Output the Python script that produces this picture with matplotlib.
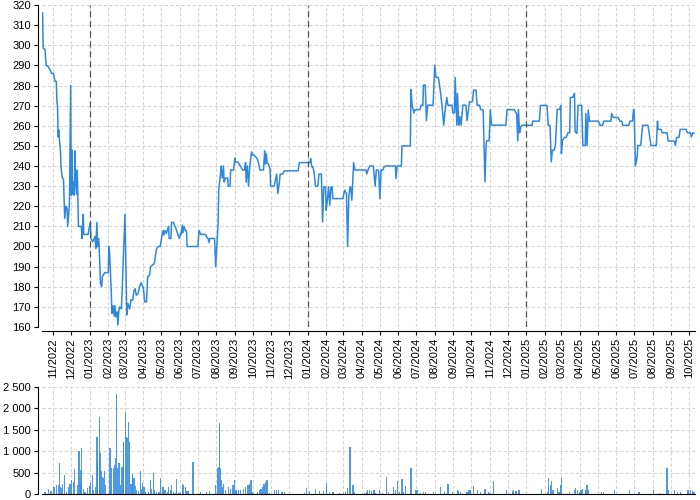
import matplotlib
matplotlib.use('Agg')
import matplotlib.pyplot as plt
import matplotlib.dates as mdates
import matplotlib.ticker as mticker
import pandas as pd

# price line (date, close)
price_dates = [
    '2022-10-14', '2022-10-15', '2022-10-18', '2022-10-20', '2022-10-23', '2022-10-26', '2022-10-29',
    '2022-11-01', '2022-11-04', '2022-11-06', '2022-11-07', '2022-11-08', '2022-11-09', '2022-11-10',
    '2022-11-11', '2022-11-13', '2022-11-14', '2022-11-16', '2022-11-18', '2022-11-19', '2022-11-20',
    '2022-11-22', '2022-11-24', '2022-11-25', '2022-11-27', '2022-11-28', '2022-11-30', '2022-12-01',
    '2022-12-02', '2022-12-03', '2022-12-05', '2022-12-06', '2022-12-07', '2022-12-08', '2022-12-10',
    '2022-12-11', '2022-12-12', '2022-12-13', '2022-12-18', '2022-12-19', '2022-12-20', '2022-12-21',
    '2022-12-22', '2022-12-29',
    '2023-01-02', '2023-01-03', '2023-01-06', '2023-01-10', '2023-01-11', '2023-01-13', '2023-01-14',
    '2023-01-16', '2023-01-18', '2023-01-19', '2023-01-21', '2023-01-22', '2023-01-25', '2023-01-26',
    '2023-02-01', '2023-02-02', '2023-02-03', '2023-02-05', '2023-02-06', '2023-02-07', '2023-02-09',
    '2023-02-11', '2023-02-12', '2023-02-14', '2023-02-16', '2023-02-17', '2023-02-19', '2023-02-20',
    '2023-02-23', '2023-02-24', '2023-03-01', '2023-03-04', '2023-03-06', '2023-03-09', '2023-03-11',
    '2023-03-14', '2023-03-16', '2023-03-18', '2023-03-20', '2023-03-23', '2023-03-25', '2023-03-28',
    '2023-03-30', '2023-04-01', '2023-04-03', '2023-04-06', '2023-04-08', '2023-04-11', '2023-04-13',
    '2023-04-16', '2023-04-19', '2023-04-23', '2023-04-26', '2023-04-29', '2023-05-02', '2023-05-04',
    '2023-05-05', '2023-05-07', '2023-05-09', '2023-05-11', '2023-05-13', '2023-05-14', '2023-05-17',
    '2023-05-18', '2023-05-21', '2023-05-23', '2023-05-26', '2023-05-29', '2023-05-31', '2023-06-02',
    '2023-06-03', '2023-06-05', '2023-06-06', '2023-06-08', '2023-06-10', '2023-06-12', '2023-06-13',
    '2023-07-01', '2023-07-03', '2023-07-06', '2023-07-14', '2023-07-16', '2023-07-18', '2023-07-20',
    '2023-07-21', '2023-07-29', '2023-07-31', '2023-08-03', '2023-08-04', '2023-08-05', '2023-08-08',
    '2023-08-09', '2023-08-11', '2023-08-13', '2023-08-14', '2023-08-16', '2023-08-20', '2023-08-21',
    '2023-08-24', '2023-08-25', '2023-08-30', '2023-09-01', '2023-09-02', '2023-09-06', '2023-09-09',
    '2023-09-11', '2023-09-14', '2023-09-17', '2023-09-19', '2023-09-20', '2023-09-22', '2023-09-24',
    '2023-09-26', '2023-09-29', '2023-10-01', '2023-10-03', '2023-10-06', '2023-10-09', '2023-10-11',
    '2023-10-13', '2023-10-19', '2023-10-21', '2023-10-22', '2023-10-24', '2023-10-25', '2023-10-27',
    '2023-10-30', '2023-10-31', '2023-11-06', '2023-11-08', '2023-11-10', '2023-11-12', '2023-11-14',
    '2023-11-16', '2023-11-20', '2023-11-23', '2023-12-16', '2023-12-18',
    '2024-01-05', '2024-01-06', '2024-01-08', '2024-01-10', '2024-01-12', '2024-01-14', '2024-01-18',
    '2024-01-20', '2024-01-24', '2024-01-26', '2024-01-28', '2024-01-31', '2024-02-01', '2024-02-03',
    '2024-02-05', '2024-02-07', '2024-02-09', '2024-02-11', '2024-02-12', '2024-02-29', '2024-03-03',
    '2024-03-06', '2024-03-08', '2024-03-10', '2024-03-12', '2024-03-13', '2024-03-15', '2024-03-18',
    '2024-03-20', '2024-04-08', '2024-04-09', '2024-04-11', '2024-04-14', '2024-04-20', '2024-04-23',
    '2024-04-25', '2024-04-27', '2024-04-29', '2024-05-01', '2024-05-03', '2024-05-06', '2024-05-08',
    '2024-05-11', '2024-05-27', '2024-05-28', '2024-05-30', '2024-06-06', '2024-06-07', '2024-06-21',
    '2024-06-22', '2024-06-24', '2024-06-27', '2024-06-29', '2024-07-07', '2024-07-09', '2024-07-12',
    '2024-07-13', '2024-07-16', '2024-07-18', '2024-07-20', '2024-07-29', '2024-08-01', '2024-08-03',
    '2024-08-07', '2024-08-10', '2024-08-13', '2024-08-16', '2024-08-18', '2024-08-21', '2024-08-23',
    '2024-08-30', '2024-08-31', '2024-09-03', '2024-09-04', '2024-09-07', '2024-09-08', '2024-09-10',
    '2024-09-12', '2024-09-14', '2024-09-17', '2024-09-22', '2024-09-24', '2024-09-28', '2024-10-03',
    '2024-10-05', '2024-10-09', '2024-10-11', '2024-10-15', '2024-10-17', '2024-10-20', '2024-10-21',
    '2024-10-24', '2024-10-26', '2024-10-27', '2024-10-31', '2024-11-02', '2024-11-04', '2024-11-28',
    '2024-11-30', '2024-12-12', '2024-12-15', '2024-12-16', '2024-12-18', '2024-12-19', '2024-12-21',
    '2024-12-23', '2024-12-26',
    '2025-01-11', '2025-01-12', '2025-01-23', '2025-01-25', '2025-02-05', '2025-02-07', '2025-02-10',
    '2025-02-12', '2025-02-14', '2025-02-17', '2025-02-19', '2025-02-22', '2025-02-26', '2025-02-28',
    '2025-03-01', '2025-03-03', '2025-03-06', '2025-03-09', '2025-03-12', '2025-03-15', '2025-03-16',
    '2025-03-20', '2025-03-23', '2025-03-24', '2025-03-27', '2025-03-29', '2025-04-04', '2025-04-06',
    '2025-04-10', '2025-04-11', '2025-04-13', '2025-04-15', '2025-04-17', '2025-05-02', '2025-05-05',
    '2025-05-09', '2025-05-11', '2025-05-23', '2025-05-24', '2025-05-27', '2025-06-04', '2025-06-07',
    '2025-06-10', '2025-06-12', '2025-06-22', '2025-06-24', '2025-06-28', '2025-06-30', '2025-07-01',
    '2025-07-03', '2025-07-06', '2025-07-07', '2025-07-12', '2025-07-15', '2025-07-24', '2025-07-26',
    '2025-07-29', '2025-08-07', '2025-08-09', '2025-08-10', '2025-08-15', '2025-08-17', '2025-08-25',
    '2025-08-27', '2025-09-06', '2025-09-08', '2025-09-10', '2025-09-14', '2025-09-16', '2025-09-26',
    '2025-09-28', '2025-10-03', '2025-10-05', '2025-10-07', '2025-10-09',
]
price_values = [
    316, 298.5, 298, 290, 289.5, 288, 286,
    286, 282, 282, 272, 270, 254.5, 258,
    254, 247, 239, 234, 233.5, 224, 214,
    220, 219, 210, 217, 222, 280, 225.5,
    248, 226, 232, 225.5, 247.5, 234, 226,
    238, 226, 210, 210, 204, 209, 216,
    206, 206,
    212, 204, 202.3, 205, 199, 212, 200,
    204, 190, 181.5, 180, 185, 186.5, 187,
    187, 200, 198, 184, 178, 166.7, 170.6,
    165.3, 170.6, 165, 167.5, 161, 169, 170,
    169, 176, 216, 166, 171.6, 169, 173.6,
    173.3, 178, 179, 175.8, 176.6, 179.6, 182,
    180.7, 179, 172.5, 172.5, 185, 185.7, 190,
    190.7, 191.5, 199, 200, 200, 205.6, 208,
    205.6, 208, 206.5, 208, 210, 204, 204,
    212, 212, 210.6, 208.4, 205.6, 204, 206.5,
    206, 210.6, 206.8, 210, 208, 207.8, 200,
    200, 208, 206, 206, 204.5, 204, 202,
    204, 204, 190, 206.5, 211.5, 228, 236,
    240, 234, 240, 232, 234, 234, 230,
    230, 238, 238, 244, 242, 242, 240.5,
    239.7, 238, 238, 241.7, 232, 240, 230,
    239.6, 247, 245.4, 245.4, 244.5, 243.2, 241.2,
    238, 238, 247.5, 241, 245.9, 241.2, 241.2,
    238.7, 230, 230, 233, 236, 226.3, 230.4,
    236, 236, 237.6, 237.6, 241.7,
    241.7, 243.7, 239.6, 239.6, 236.3, 230, 230,
    236, 236, 212.2, 229.6, 229.6, 218, 223,
    229.6, 220.5, 229.6, 229.6, 223.8, 223.8, 228,
    226.3, 200, 225.5, 229.6, 229.6, 223, 241.7,
    238, 238, 236, 238, 240, 240, 230,
    238, 238, 237.6, 223.8, 238, 238, 239.6,
    240, 240, 233.8, 240, 240, 250, 250,
    278, 270.2, 266.4, 268, 268, 270.2, 270.2,
    280.2, 280.2, 262.5, 270.2, 270.2, 290.1, 284,
    284, 277.7, 270.2, 260.3, 267, 274, 270.2,
    270.2, 266.4, 266.4, 284, 260.3, 276, 260.3,
    264.5, 260.3, 270.2, 270.2, 262.5, 271.9, 271.9,
    277.7, 277.7, 270.2, 270.2, 268, 268, 267.8,
    232.1, 251.2, 252.5, 252.5, 268, 260.3, 260.3,
    268, 268, 266.4, 266, 252.5, 268, 256.5,
    259.5, 260.3,
    260.2, 262.3, 262.3, 270.1, 270.1, 260.2, 260.2,
    242.1, 247.9, 247.9, 250.4, 268.1, 268.1, 270.1,
    246.2, 252.9, 254.2, 254.2, 256.5, 256.5, 274.1,
    274.1, 276.1, 257, 256.2, 270.1, 270.1, 250.2,
    250.2, 266.1, 250.2, 267.8, 262.3, 262.3, 260.2,
    260.2, 262.3, 262.3, 266.1, 264.1, 264.1, 262.3,
    262.3, 260.2, 260.2, 262.3, 262.3, 268.1, 266.1,
    240, 244.6, 250.2, 250.2, 260.2, 260.2, 256.5,
    250.2, 250.2, 262.3, 258.2, 258.2, 256.5, 256.5,
    252.4, 252.4, 250.2, 254.2, 254.2, 258.2, 258.2,
    256.5, 256.5, 254.5, 256.5, 256.2,
]

# traded volume
vol_dates = [
    '2022-10-18', '2022-10-24', '2022-10-27', '2022-10-29', '2022-11-02', '2022-11-06', '2022-11-09',
    '2022-11-11', '2022-11-13', '2022-11-15', '2022-11-17', '2022-11-20', '2022-11-23', '2022-11-27',
    '2022-11-29', '2022-12-02', '2022-12-05', '2022-12-07', '2022-12-11', '2022-12-14', '2022-12-16',
    '2022-12-17', '2022-12-18', '2022-12-22', '2022-12-24', '2022-12-28', '2022-12-31',
    '2023-01-02', '2023-01-05', '2023-01-07', '2023-01-10', '2023-01-13', '2023-01-14', '2023-01-17',
    '2023-01-18', '2023-01-20', '2023-01-22', '2023-01-24', '2023-01-26', '2023-01-28', '2023-02-04',
    '2023-02-05', '2023-02-07', '2023-02-10', '2023-02-12', '2023-02-13', '2023-02-15', '2023-02-17',
    '2023-02-19', '2023-02-22', '2023-02-24', '2023-02-26', '2023-02-27', '2023-03-02', '2023-03-03',
    '2023-03-05', '2023-03-07', '2023-03-09', '2023-03-11', '2023-03-13', '2023-03-14', '2023-03-16',
    '2023-03-19', '2023-03-20', '2023-03-23', '2023-03-27', '2023-03-29', '2023-03-30', '2023-04-02',
    '2023-04-05', '2023-04-09', '2023-04-13', '2023-04-15', '2023-04-18', '2023-04-20', '2023-04-23',
    '2023-04-27', '2023-04-30', '2023-05-03', '2023-05-05', '2023-05-07', '2023-05-11', '2023-05-13',
    '2023-05-16', '2023-05-18', '2023-05-21', '2023-05-24', '2023-05-26', '2023-05-30', '2023-06-01',
    '2023-06-05', '2023-06-07', '2023-06-10', '2023-06-13', '2023-06-15', '2023-06-23', '2023-07-05',
    '2023-07-15', '2023-07-20', '2023-07-30', '2023-08-03', '2023-08-05', '2023-08-07', '2023-08-08',
    '2023-08-10', '2023-08-11', '2023-08-13', '2023-08-16', '2023-08-21', '2023-08-25', '2023-08-29',
    '2023-08-31', '2023-09-03', '2023-09-07', '2023-09-11', '2023-09-15', '2023-09-19', '2023-09-23',
    '2023-09-26', '2023-09-28', '2023-10-01', '2023-10-09', '2023-10-12', '2023-10-15', '2023-10-17',
    '2023-10-20', '2023-10-23', '2023-10-25', '2023-10-29', '2023-11-06', '2023-11-10', '2023-11-13',
    '2023-11-19', '2023-11-23', '2023-12-27', '2023-12-30',
    '2024-01-04', '2024-01-14', '2024-01-21', '2024-01-27', '2024-02-01', '2024-02-07', '2024-02-11',
    '2024-02-13', '2024-02-23', '2024-03-01', '2024-03-05', '2024-03-08', '2024-03-12', '2024-03-17',
    '2024-03-20', '2024-04-05', '2024-04-08', '2024-04-10', '2024-04-14', '2024-04-17', '2024-04-21',
    '2024-04-24', '2024-04-30', '2024-05-05', '2024-05-12', '2024-05-15', '2024-05-24', '2024-05-27',
    '2024-05-31', '2024-06-03', '2024-06-07', '2024-06-10', '2024-06-13', '2024-06-22', '2024-06-29',
    '2024-07-02', '2024-07-08', '2024-07-13', '2024-07-17', '2024-07-30', '2024-08-11', '2024-08-17',
    '2024-08-23', '2024-08-31', '2024-09-08', '2024-09-10', '2024-09-13', '2024-09-24', '2024-09-27',
    '2024-09-29', '2024-10-05', '2024-10-11', '2024-10-16', '2024-10-24', '2024-10-30', '2024-11-01',
    '2024-11-07', '2024-11-29', '2024-12-09', '2024-12-11', '2024-12-15', '2024-12-20',
    '2025-01-27', '2025-02-06', '2025-02-08', '2025-02-11', '2025-02-12', '2025-02-15', '2025-02-22',
    '2025-02-25', '2025-02-28', '2025-03-01', '2025-03-15', '2025-03-23', '2025-03-25', '2025-03-28',
    '2025-03-31', '2025-04-03', '2025-04-06', '2025-04-10', '2025-04-13', '2025-04-16', '2025-05-07',
    '2025-05-11', '2025-05-29', '2025-06-23', '2025-07-09', '2025-08-02', '2025-08-13', '2025-08-25',
    '2025-08-27', '2025-09-07', '2025-09-11', '2025-09-17', '2025-09-29', '2025-10-03', '2025-10-06',
    '2025-10-09',
]
vol_values = [
    55, 110, 80, 80, 156, 200, 200,
    734, 156, 133, 234, 445, 55, 156,
    234, 328, 290, 578, 200, 1015, 234,
    562, 1070, 110, 55, 133, 187,
    250, 445, 94, 156, 1343, 797, 1788,
    953, 547, 390, 375, 547, 211, 1070,
    94, 601, 601, 680, 836, 2327, 601,
    718, 200, 625, 1187, 1226, 1921, 1343,
    1304, 1687, 1218, 234, 469, 406, 375,
    187, 94, 78, 547, 110, 250, 156,
    47, 47, 328, 110, 500, 94, 55,
    55, 367, 156, 172, 94, 55, 156,
    94, 211, 55, 31, 351, 31, 31,
    234, 200, 156, 78, 78, 750, 47,
    47, 63, 204, 597, 637, 1658, 597,
    322, 165, 244, 86, 165, 126, 204,
    338, 86, 86, 86, 126, 165, 204,
    244, 338, 47, 47, 86, 126, 165,
    244, 283, 322, 31, 86, 102, 102,
    47, 47, 24, 141,
    63, 126, 63, 63, 267, 47, 47,
    47, 24, 24, 47, 149, 1108, 204,
    47, 31, 47, 86, 86, 63, 102,
    31, 86, 31, 400, 47, 165, 86,
    299, 47, 346, 47, 189, 613, 102,
    86, 31, 47, 47, 47, 165, 47,
    244, 47, 86, 70, 47, 47, 86,
    86, 181, 86, 47, 126, 47, 31,
    299, 86, 70, 86, 63, 102,
    126, 47, 385, 204, 299, 86, 149,
    47, 204, 377, 47, 86, 149, 86,
    47, 86, 126, 102, 204, 86, 47,
    47, 86, 102, 47, 86, 24, 597,
    102, 102, 47, 47, 86, 86, 70,
    47,
]

year_marks = ['2023-01-01', '2024-01-01', '2025-01-01']

LINE = '#3088dc'
GRID = '#d4d4d4'

plt.rcParams['font.family'] = ['Liberation Sans', 'DejaVu Sans']
plt.rcParams['font.size'] = 8

pdates = pd.to_datetime(price_dates)
vdates = pd.to_datetime(vol_dates)

fig = plt.figure(figsize=(7, 5), dpi=100)
ax = fig.add_axes([0.06, 0.346, 0.933, 0.644])
axv = fig.add_axes([0.06, 0.012, 0.933, 0.214], sharex=ax)

ax.plot(pdates, price_values, color=LINE, lw=1.1)
for ym in year_marks:
    ax.axvline(pd.Timestamp(ym), color='#555555', lw=0.9, ls=(0, (5, 3)))

axv.bar(vdates, vol_values, width=2.0, color=LINE, alpha=0.85, lw=0)

ax.set_xlim(pdates[0] - pd.Timedelta(days=1), pdates[-1] + pd.Timedelta(days=2))
ax.set_ylim(160, 320)
ax.yaxis.set_major_locator(mticker.MultipleLocator(10))
ax.xaxis.set_major_locator(mdates.MonthLocator())
ax.xaxis.set_major_formatter(mdates.DateFormatter('%m/%Y'))

axv.set_ylim(0, 2500)
axv.yaxis.set_major_locator(mticker.MultipleLocator(500))
axv.yaxis.set_major_formatter(mticker.FuncFormatter(lambda v, p: f'{v:,.0f}'.replace(',', ' ')))

for a in (ax, axv):
    a.set_axisbelow(True)
    a.grid(True, color=GRID, ls=(0, (3, 2)), lw=0.8)
    a.spines['top'].set_visible(False)
    a.spines['right'].set_visible(False)
    a.spines['left'].set_position(('outward', 3))
    a.tick_params(axis='both', length=3, width=0.8, pad=2, colors='black')
ax.spines['bottom'].set_position(('outward', 3))
ax.tick_params(axis='x', labelrotation=90)
axv.tick_params(axis='x', labelbottom=False, length=0)

fig.savefig('out.png', dpi=100)
